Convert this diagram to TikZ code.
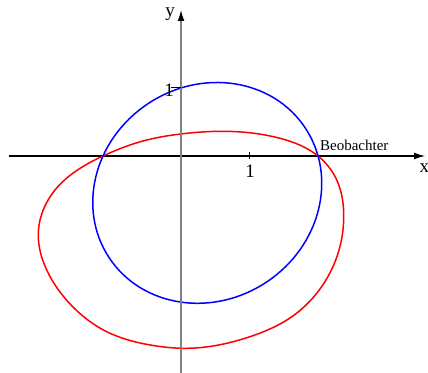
\documentclass[tikz,border=0pt]{standalone}
\usepackage{fontspec}
\setmainfont{Liberation Serif}
\usetikzlibrary{arrows.meta,hobby}
\begin{document}
\begin{tikzpicture}[x=34pt,y=34pt,
  axis/.style={line width=0.6pt,-{Latex[length=5.5pt,width=3.4pt,color=black]}},
  curve/.style={line width=0.75pt},
  lbl/.style={inner sep=0pt,font=\fontsize{9.5pt}{10pt}\selectfont},
  obs/.style={inner sep=0pt,font=\fontsize{7.5pt}{8pt}\selectfont}]
\useasboundingbox (-2.662,-3.191) rectangle (3.632,2.294);
% x axis
\coordinate (xs) at (-2.53,0);
\coordinate (xe) at (3.59,0);
\draw[axis,black] (xs) -- (xe);
% red curve
\draw[curve,red,use Hobby shortcut,closed=true]
 (2.015,0) .. (1.456,0.260) .. (0.618,0.363) .. (0,0.324) .. (-0.504,0.235)
 .. (-1.147,0) .. (-1.853,-0.5) .. (-2.099,-1.162)
 .. (-1.975,-1.676) .. (-1.603,-2.206) .. (-1.093,-2.584) .. (-0.456,-2.779)
 .. (0.088,-2.828) .. (1.015,-2.657) .. (1.603,-2.382) .. (2.022,-1.985)
 .. (2.324,-1.382) .. (2.393,-0.893) .. (2.290,-0.353);
% blue curve (ellipse)
\draw[curve,blue,rotate around={33.54:(0.3857,-0.5426)}]
 (0.3857,-0.5426) ellipse [x radius=1.7292,y radius=1.5750];
% y axis
\coordinate (ys) at (0,-3.19);
\coordinate (ye) at (0,2.147);
\draw[axis,gray] (ys) -- (ye);
% ticks
\coordinate (tx) at (1,0);
\coordinate (ty) at (0,1);
\draw[line width=0.5pt] ([yshift=-1.4pt]tx) -- ([yshift=2pt]tx);
\draw[line width=0.5pt] ([xshift=-5pt]ty) -- (ty);
% labels
\node[lbl] (lx) at (3.58,-0.18) {x};
\node[lbl] (ly) at (-0.16,2.08) {y};
\node[lbl] (l1x) at (1.015,-0.22) {1};
\node[lbl] (l1y) at (-0.175,0.97) {1};
\node[obs,anchor=base west] (beob) at (2.04,0.078) {Beobachter};
\end{tikzpicture}
\end{document}
